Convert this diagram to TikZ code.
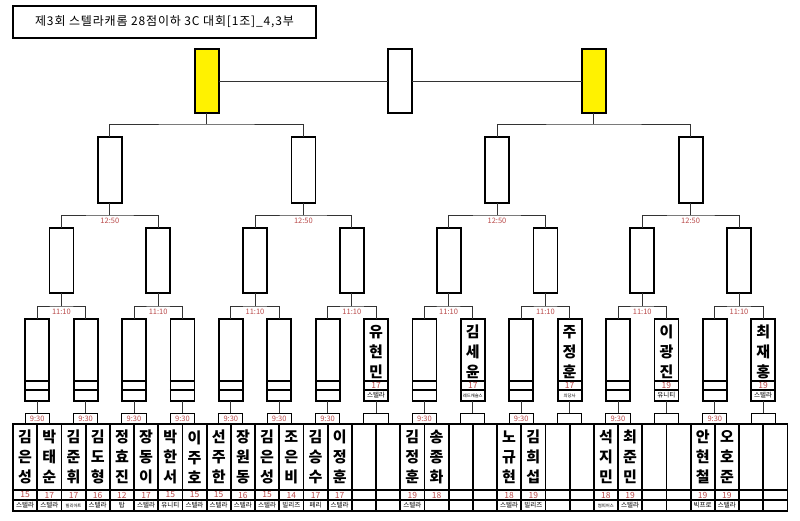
\documentclass[tikz,border=0pt]{standalone}
\usepackage{fontspec}
\setmainfont{Noto Sans CJK KR}
\definecolor{timered}{RGB}{185,75,75}
\newcommand{\smallteam}[1]{{\fontsize{4.3}{4.3}\selectfont #1}}

\begin{document}
\begin{tikzpicture}[
    x=1pt, y=-1pt,
    % Styles
    matchbox/.style={draw, line width=1.8pt, fill=white, inner sep=0pt, outer sep=0pt,
        minimum width=24pt, minimum height=#1},
    semibox/.style={matchbox=64pt, fill=yellow},
    playercol/.style={draw, line width=1.8pt, inner sep=0pt, outer sep=0pt,
        minimum width=24.2pt, minimum height=87pt},
    timebox/.style={draw, line width=1pt, inner sep=0pt, outer sep=0pt,
        minimum width=24.2pt, minimum height=11pt, font=\fontsize{7}{7}\selectfont, text=timered},
    titlebox/.style={draw, line width=1.6pt, minimum width=303pt, minimum height=32pt,
        font=\fontsize{12}{12}\selectfont\addfontfeature{LetterSpace=7}},
    bracket/.style={draw=black!80, line width=0.8pt},
    rowline/.style={line width=1.2pt},
    namestack/.style={align=center, font=\fontsize{15}{20}\selectfont\bfseries, inner sep=0pt},
    scoretext/.style={font=\fontsize{8.5}{8.5}\selectfont, text=timered, inner sep=0pt},
    teamtext/.style={font=\fontsize{6.5}{6.5}\selectfont, inner sep=0pt},
    timelabel/.style={font=\fontsize{7.5}{7.5}\selectfont, text=timered, inner sep=0pt}
]
\useasboundingbox (0,0) rectangle (800,520);

% --- Title ---
\node[titlebox] (title) at (164.5,22) {제3회 스텔라캐롬 28점이하 3C 대회[1조]\_4,3부};

% --- Player columns ---
\foreach \i in {0,...,31} {
    \node[playercol] (col-\i) at ({25.1+24.2*\i}, 467.5) {};
    \draw[rowline] ({13+24.2*\i}, 490) -- ++(24.2,0);
    \draw[rowline] ({13+24.2*\i}, 500) -- ++(24.2,0);
}
\foreach \i/\nm/\sc/\tm in {0/김\\은\\성/15/스텔라, 1/박\\태\\순/17/스텔라,
        2/김\\준\\휘/17/\smallteam{빌리아트}, 3/김\\도\\형/16/스텔라,
        4/정\\효\\진/12/탑, 5/장\\동\\이/17/스텔라, 6/박\\한\\서/15/유니티,
        7/이\\주\\호/15/스텔라, 8/선\\주\\한/15/스텔라, 9/장\\원\\동/16/스텔라,
        10/김\\은\\성/15/스텔라, 11/조\\은\\비/14/빌리즈, 12/김\\승\\수/17/페리,
        13/이\\정\\훈/17/스텔라, 16/김\\정\\훈/19/스텔라, 17/송\\종\\화/18/{},
        20/노\\규\\현/18/스텔라, 21/김\\희\\섭/19/빌리즈,
        24/석\\지\\민/18/\smallteam{썸띠어스}, 25/최\\준\\민/19/스텔라,
        28/안\\현\\철/19/빅프로, 29/오\\호\\준/19/스텔라} {
    \node[namestack] (nm-\i) at ({25.1+24.2*\i}, 457) {\nm};
    \node[scoretext] (sc-\i) at ({25.1+24.2*\i}, 495) {\sc};
    \node[teamtext] (tm-\i) at ({25.1+24.2*\i}, 505.5) {\tm};
}

% --- Round of 32 ---
\foreach \j in {0,...,15} {
    \node[matchbox=82pt] (r2-\j) at ({13+24.2*(2*\j+1)}, 360) {};
    \draw[rowline] ({0.5+24.2*(2*\j+1)}, 381) -- ++(25,0);
    \draw[rowline] ({0.5+24.2*(2*\j+1)}, 390) -- ++(25,0);
    \node[timebox] (t2-\j) at ({13+24.2*(2*\j+1)}, 418.5) {};
    \draw[bracket] (r2-\j.south) -- (t2-\j.north);
}
\foreach \j in {0,...,6,8,10,12,14}
    \node[timelabel] (lt2-\j) at (t2-\j) {9:30};
\foreach \j/\nm/\sc/\tm in {7/유\\현\\민/17/스텔라, 9/김\\세\\윤/17/\smallteam{레드캐슬스},
        11/주\\정\\훈/17/\smallteam{의당사}, 13/이\\광\\진/19/유니티, 15/최\\재\\홍/19/스텔라} {
    \node[namestack] (n2-\j) at ({13+24.2*(2*\j+1)}, 352) {\nm};
    \node[scoretext] (s2-\j) at ({13+24.2*(2*\j+1)}, 385.5) {\sc};
    \node[teamtext] (e2-\j) at ({13+24.2*(2*\j+1)}, 395.5) {\tm};
}

% --- Round of 16 ---
\foreach \k [evaluate=\k as \a using int(2*\k), evaluate=\k as \b using int(2*\k+1)] in {0,...,7} {
    \node[matchbox=65pt] (r3-\k) at ({13+24.2*(4*\k+2)}, 260.5) {};
    \coordinate (j3-\k) at ({13+24.2*(4*\k+2)}, 306);
    \draw[bracket] (r2-\a.north) |- (j3-\k) -| (r2-\b.north);
    \draw[bracket] (j3-\k) -- (r3-\k.south);
    \node[timelabel] (lt3-\k) at ({13+24.2*(4*\k+2)}, 312) {11:10};
}

% --- Quarter finals ---
\foreach \m [evaluate=\m as \a using int(2*\m), evaluate=\m as \b using int(2*\m+1)] in {0,...,3} {
    \node[matchbox=66pt] (r4-\m) at ({13+24.2*(8*\m+4)}, 170) {};
    \coordinate (j4-\m) at ({13+24.2*(8*\m+4)}, 215);
    \draw[bracket] (r3-\a.north) |- (j4-\m) -| (r3-\b.north);
    \draw[bracket] (j4-\m) -- (r4-\m.south);
    \node[timelabel] (lt4-\m) at ({13+24.2*(8*\m+4)}, 221) {12:50};
}

% --- Semi finals & final ---
\foreach \n [evaluate=\n as \a using int(2*\n), evaluate=\n as \b using int(2*\n+1)] in {0,1} {
    \node[semibox] (semi-\n) at ({13+24.2*(16*\n+8)}, 81) {};
    \coordinate (j5-\n) at ({13+24.2*(16*\n+8)}, 124);
    \draw[bracket] (r4-\a.north) |- (j5-\n) -| (r4-\b.north);
    \draw[bracket] (j5-\n) -- (semi-\n.south);
}
\node[matchbox=64pt] (final) at (400.2, 81) {};
\draw[bracket] (semi-0) -- (final);
\draw[bracket] (final) -- (semi-1);

\end{tikzpicture}
\end{document}
